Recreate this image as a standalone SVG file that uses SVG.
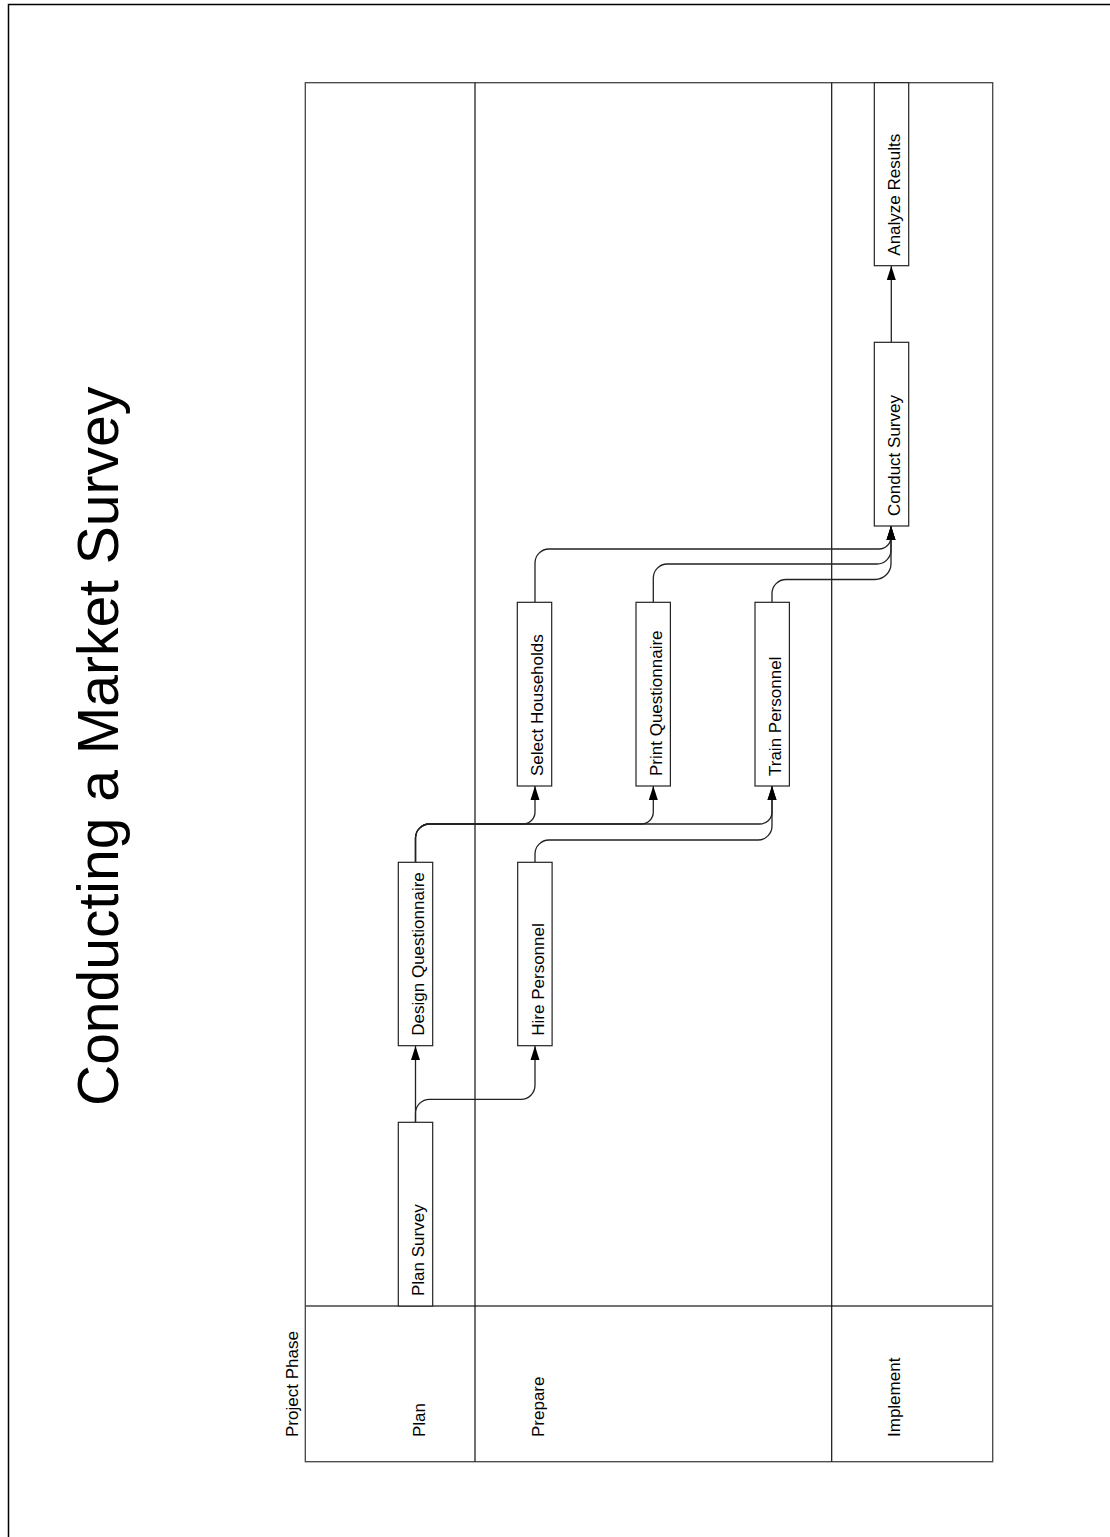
<svg xmlns="http://www.w3.org/2000/svg" width="1110" height="1537" viewBox="0 0 1110 1537">
<style>
.t{font-family:"Liberation Sans",Arial,sans-serif;font-size:17px;fill:#000}
.title{font-family:"Liberation Sans",Arial,sans-serif;font-size:57px;fill:#000}
.box{fill:#fff;stroke:#222;stroke-width:1.2}
.tbl{fill:none;stroke:#444;stroke-width:1.3}
.lane{fill:none;stroke:#111;stroke-width:1.2}
.c{fill:none;stroke:#222;stroke-width:1.3}
</style>
<defs>
<marker id="arr" markerWidth="16" markerHeight="12" refX="14" refY="5" orient="auto" markerUnits="userSpaceOnUse" overflow="visible">
<path d="M0,0.5 L14,5 L0,9.5 Z" fill="#000"/>
</marker>
</defs>
<rect width="1110" height="1537" fill="#fff"/>
<path d="M8.5,1537 V4.5 H1110" fill="none" stroke="#000" stroke-width="1.5"/>
<text class="title" transform="translate(118,1106) rotate(-90)">Conducting a Market Survey</text>
<g id="table">
<rect class="tbl" x="305.3" y="82.7" width="687.4" height="1379"/>
<line class="tbl" x1="305.3" y1="1306" x2="992.7" y2="1306"/>
<line class="lane" x1="475" y1="82.7" x2="475" y2="1461.7"/>
<line class="lane" x1="831.7" y1="82.7" x2="831.7" y2="1461.7"/>
<text class="t" transform="translate(298,1437) rotate(-90)">Project Phase</text>
<text class="t" transform="translate(425,1437) rotate(-90)">Plan</text>
<text class="t" transform="translate(544,1437) rotate(-90)">Prepare</text>
<text class="t" transform="translate(900,1437) rotate(-90)">Implement</text>
</g>
<g id="connectors">
<path class="c" d="M415.5,1122 V1046" marker-end="url(#arr)"/>
<path class="c" d="M415.5,1122 V1113.3 A14,14 0 0 1 429.5,1099.3 H521 A14,14 0 0 0 535,1085.3 V1046" marker-end="url(#arr)"/>
<path class="c" d="M415.5,862 V838 A14,14 0 0 1 429.5,824 H523 A12,12 0 0 0 535,812 V786" marker-end="url(#arr)"/>
<path class="c" d="M415.5,862 V838 A14,14 0 0 1 429.5,824 H641.3 A12,12 0 0 0 653.3,812 V786" marker-end="url(#arr)"/>
<path class="c" d="M415.5,862 V838 A14,14 0 0 1 429.5,824 H760 A12,12 0 0 0 772,812 V786" marker-end="url(#arr)"/>
<path class="c" d="M535,862 V854 A14,14 0 0 1 549,840 H758 A14,14 0 0 0 772,826 V786" marker-end="url(#arr)"/>
<path class="c" d="M535,602 V563 A14,14 0 0 1 549,549 H879 A12,12 0 0 0 891,537 V526" marker-end="url(#arr)"/>
<path class="c" d="M653.3,602 V578 A14,14 0 0 1 667.3,564 H877 A14,14 0 0 0 891,550 V526" marker-end="url(#arr)"/>
<path class="c" d="M772,602 V593.5 A14,14 0 0 1 786,579.5 H875 A16,16 0 0 0 891,563.5 V526" marker-end="url(#arr)"/>
<path class="c" d="M891.3,342 V266" marker-end="url(#arr)"/>
</g>
<g id="plan-survey">
<rect class="box" x="398.3" y="1122.3" width="34.4" height="183.7"/>
<text class="t" transform="translate(424.3,1296) rotate(-90)">Plan Survey</text>
</g>
<g id="design-questionnaire">
<rect class="box" x="398.3" y="862.3" width="34.4" height="183.4"/>
<text class="t" transform="translate(424.3,1035.7) rotate(-90)">Design Questionnaire</text>
</g>
<g id="hire-personnel">
<rect class="box" x="517.7" y="862.3" width="34.4" height="183.4"/>
<text class="t" transform="translate(543.7,1035.7) rotate(-90)">Hire Personnel</text>
</g>
<g id="select-households">
<rect class="box" x="517.3" y="602.3" width="34.4" height="183.7"/>
<text class="t" transform="translate(543.3,776) rotate(-90)">Select Households</text>
</g>
<g id="print-questionnaire">
<rect class="box" x="636" y="602.3" width="34.4" height="183.7"/>
<text class="t" transform="translate(662,776) rotate(-90)">Print Questionnaire</text>
</g>
<g id="train-personnel">
<rect class="box" x="755" y="602.3" width="34.4" height="183.7"/>
<text class="t" transform="translate(781,776) rotate(-90)">Train Personnel</text>
</g>
<g id="conduct-survey">
<rect class="box" x="874.3" y="342.3" width="34.4" height="183.7"/>
<text class="t" transform="translate(900.3,516) rotate(-90)">Conduct Survey</text>
</g>
<g id="analyze-results">
<rect class="box" x="874.3" y="82.7" width="34.4" height="183"/>
<text class="t" transform="translate(900.3,255.7) rotate(-90)">Analyze Results</text>
</g>
</svg>
